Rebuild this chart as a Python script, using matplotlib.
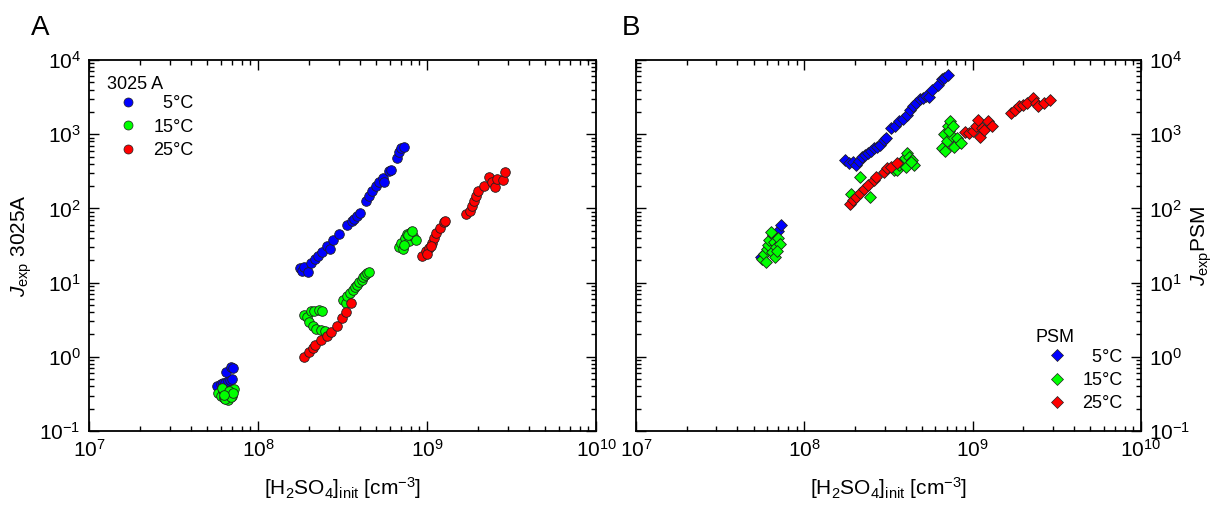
import numpy as np
import matplotlib
matplotlib.use("Agg")
import matplotlib.pyplot as plt
from matplotlib.lines import Line2D

plt.rcParams['font.family'] = ['Liberation Sans', 'DejaVu Sans']
plt.rcParams['mathtext.fontset'] = 'custom'
plt.rcParams['mathtext.rm'] = 'Liberation Sans'
plt.rcParams['mathtext.it'] = 'Liberation Sans:italic'
plt.rcParams['mathtext.bf'] = 'Liberation Sans:bold'
plt.rcParams['axes.unicode_minus'] = False

# ---- data: panel A (3025 A counter), circles
a5_x = [5.7e7, 6.0e7, 6.2e7, 6.4e7, 6.6e7, 6.8e7, 7.0e7, 6.5e7, 6.9e7, 7.1e7,
        1.78e8, 1.82e8, 1.88e8, 1.97e8, 2.05e8, 2.16e8, 2.25e8, 2.40e8, 2.57e8, 2.65e8,
        2.79e8, 3.02e8, 3.37e8, 3.60e8, 3.71e8, 3.85e8, 4.02e8, 4.33e8, 4.53e8, 4.72e8,
        4.99e8, 5.18e8, 5.47e8, 5.55e8, 5.99e8, 6.09e8, 6.60e8, 6.78e8, 6.97e8, 7.28e8]
a5_y = [0.40, 0.43, 0.44, 0.45, 0.47, 0.48, 0.50, 0.62, 0.72, 0.70,
        15.5, 14.3, 16.2, 14.0, 18.2, 21.0, 22.8, 25.5, 31.0, 28.0,
        37.0, 45.0, 60.0, 68.0, 72.0, 80.0, 86.0, 127, 148, 174,
        203, 225, 257, 225, 317, 331, 482, 575, 659, 673]

a15_x = [5.8e7, 6.0e7, 6.2e7, 6.3e7, 6.5e7, 6.6e7, 6.8e7, 7.0e7, 7.2e7, 6.1e7,
         6.4e7, 6.7e7, 6.9e7, 7.1e7, 6.3e7,
         1.86e8, 1.95e8, 2.05e8, 2.15e8, 2.28e8, 2.40e8, 2.00e8, 2.10e8, 2.20e8, 2.35e8, 2.50e8,
         3.19e8, 3.30e8, 3.36e8, 3.50e8, 3.65e8, 3.75e8, 3.85e8, 3.96e8, 4.10e8, 4.17e8,
         4.30e8, 4.40e8, 4.53e8,
         6.8e8, 7.0e8, 7.2e8, 7.4e8, 7.6e8, 7.8e8, 8.0e8, 8.3e8, 8.6e8, 7.3e8, 7.7e8, 8.1e8]
a15_y = [0.33, 0.30, 0.36, 0.28, 0.32, 0.26, 0.34, 0.30, 0.37, 0.38,
         0.27, 0.35, 0.29, 0.33, 0.31,
         3.7, 3.4, 4.1, 4.2, 4.3, 4.2, 2.9, 2.6, 2.4, 2.3, 2.2,
         5.8, 5.25, 6.5, 7.2, 7.95, 8.8, 9.2, 10.3, 11.0, 12.0,
         12.5, 13.4, 14.1,
         30, 34, 28, 40, 45, 36, 48, 42, 38, 32, 44, 50]

a25_x = [1.86e8, 2.01e8, 2.12e8, 2.18e8, 2.37e8, 2.57e8, 2.71e8, 2.94e8, 3.14e8, 3.31e8, 3.55e8,
         9.37e8, 9.9e8, 1.02e9, 1.07e9, 1.10e9, 1.13e9, 1.19e9, 1.26e9, 1.28e9, 1.00e9, 1.05e9,
         1.70e9, 1.79e9, 1.84e9, 1.89e9, 1.94e9, 1.99e9, 2.16e9, 2.31e9, 2.41e9, 2.51e9,
         2.61e9, 2.83e9, 2.91e9]
a25_y = [1.0, 1.17, 1.30, 1.44, 1.71, 1.90, 2.18, 2.6, 3.3, 4.05, 5.37,
         22.8, 26.6, 29.5, 34.5, 40, 47, 55, 64.6, 68, 24, 31,
         83.8, 93, 109, 127, 149, 174, 203, 264, 225, 193,
         250, 238, 308]

# ---- data: panel B (PSM), diamonds
b5_x = [5.5e7, 5.8e7, 6.0e7, 6.3e7, 6.6e7, 7.0e7, 7.3e7,
        1.74e8, 1.84e8, 1.94e8, 2.04e8, 2.12e8, 2.21e8, 2.30e8, 2.39e8, 2.48e8, 2.59e8,
        2.70e8, 2.81e8, 2.96e8, 3.05e8, 3.29e8, 3.45e8, 3.66e8, 3.85e8, 4.06e8, 4.25e8,
        4.40e8, 4.60e8, 4.90e8, 5.10e8, 5.30e8, 5.50e8, 5.74e8, 6.21e8, 6.55e8, 6.80e8, 7.10e8]
b5_y = [22, 24, 27, 33, 40, 50, 60,
        449, 403, 420, 380, 440, 498, 520, 552, 600, 646,
        680, 716, 837, 880, 1206, 1300, 1486, 1600, 1829, 2100,
        2376, 2600, 2987, 3100, 3244, 3150, 3999, 4673, 5472, 5800, 6198]

b15_x = [5.6e7, 5.8e7, 6.0e7, 6.1e7, 6.2e7, 6.4e7, 6.5e7, 6.6e7, 6.8e7, 7.0e7,
         7.2e7, 6.3e7, 6.7e7, 5.9e7, 6.9e7,
         1.89e8, 2.15e8, 2.46e8,
         3.40e8, 3.56e8, 3.65e8, 3.76e8, 3.85e8, 3.96e8, 4.07e8, 4.20e8, 4.35e8, 4.50e8,
         4.00e8, 4.30e8,
         6.55e8, 6.8e8, 7.0e8, 7.1e8, 7.3e8, 7.5e8, 7.8e8, 8.1e8, 8.5e8, 7.2e8, 7.6e8, 6.9e8]
b15_y = [21, 24, 28, 32, 38, 26, 44, 35, 30, 40,
         33, 48, 22, 19, 27,
         158, 266, 143,
         330, 328, 384, 420, 400, 472, 552, 500, 450, 380,
         360, 420,
         650, 1000, 800, 1270, 1520, 950, 680, 880, 760, 1090, 1300, 600]

b25_x = [1.87e8, 1.94e8, 2.04e8, 2.15e8, 2.27e8, 2.39e8, 2.59e8, 2.66e8, 2.96e8, 3.12e8,
         3.29e8, 3.56e8,
         8.99e8, 9.5e8, 1.00e9, 1.05e9, 1.08e9, 1.11e9, 1.14e9, 1.17e9, 1.24e9, 1.30e9,
         1.70e9, 1.79e9, 1.89e9, 1.99e9, 2.10e9, 2.27e9, 2.39e9, 2.46e9, 2.66e9, 2.88e9]
b25_y = [116, 128, 143, 161, 185, 205, 240, 266, 311, 345,
         364, 404,
         1087, 1032, 1100, 1271, 1566, 929, 1200, 1145, 1486, 1271,
         1928, 2140, 2376, 2502, 2637, 3083, 2637, 2376, 2637, 2860]

temps = ['  5°C', '15°C', '25°C']
colors = ['#0000ff', '#00ff00', '#ff0000']

fig = plt.figure(figsize=(12.2, 5.08), dpi=100)
axA = fig.add_axes([0.073, 0.1516, 0.4156, 0.7303])
axB = fig.add_axes([0.5213, 0.1516, 0.4139, 0.7303])


def style_axis(ax):
    ax.set_xscale('log')
    ax.set_yscale('log')
    ax.set_xlim(1e7, 1e10)
    ax.set_ylim(0.1, 1e4)
    for sp in ax.spines.values():
        sp.set_linewidth(1.3)
    ax.tick_params(which='both', direction='in', top=True, right=True,
                   left=True, bottom=True, width=1.0, labelsize=15)
    ax.tick_params(which='major', length=7, pad=6)
    ax.tick_params(which='minor', length=3.5)
    ax.set_xlabel(r'[H$_2$SO$_4$]$_{\mathrm{init}}$ [cm$^{-3}$]', fontsize=15, labelpad=10)


style_axis(axA)
style_axis(axB)

leg_kw = dict(loc='upper left', frameon=False, fontsize=13, handlelength=1.0,
              handletextpad=0.9, labelspacing=0.35, borderpad=0.0, borderaxespad=0.0)

# panel A
order = [(a5_x, a5_y, 0), (a25_x, a25_y, 2), (a15_x, a15_y, 1)]
for xs, ys, i in order:
    axA.scatter(xs, ys, s=48, marker='o', c=colors[i], edgecolors='#202020',
                linewidths=0.6, zorder=3 + i)
axA.set_ylabel(r'$J_{\mathrm{exp}}$ 3025A', fontsize=15, labelpad=4)

handlesA = [Line2D([], [], ls='none', marker='o', markersize=6.5, markerfacecolor=c,
                   markeredgecolor='#202020', markeredgewidth=0.5) for c in colors]
axA.text(0.0355, 0.933, '3025 A', transform=axA.transAxes, fontsize=13,
         ha='left', va='center')
axA.legend(handlesA, temps, bbox_to_anchor=(0.059, 0.905), **leg_kw)

# panel B
order = [(b5_x, b5_y, 0), (b25_x, b25_y, 2), (b15_x, b15_y, 1)]
for xs, ys, i in order:
    axB.scatter(xs, ys, s=36, marker='D', c=colors[i], edgecolors='#202020',
                linewidths=0.6, zorder=3 + i)
axB.tick_params(which='both', labelleft=False, labelright=True)
axB.yaxis.set_label_position('right')
axB.set_ylabel(r'$J_{\mathrm{exp}}$PSM', fontsize=15, labelpad=-1)

handlesB = [Line2D([], [], ls='none', marker='D', markersize=6, markerfacecolor=c,
                   markeredgecolor='#202020', markeredgewidth=0.5) for c in colors]
axB.text(0.792, 0.251, 'PSM', transform=axB.transAxes, fontsize=13,
         ha='left', va='center')
axB.legend(handlesB, temps, bbox_to_anchor=(0.816, 0.222), **leg_kw)

fig.text(0.025, 0.945, 'A', fontsize=20, ha='left', va='center')
fig.text(0.510, 0.945, 'B', fontsize=20, ha='left', va='center')

fig.savefig('out.png', dpi=100)
